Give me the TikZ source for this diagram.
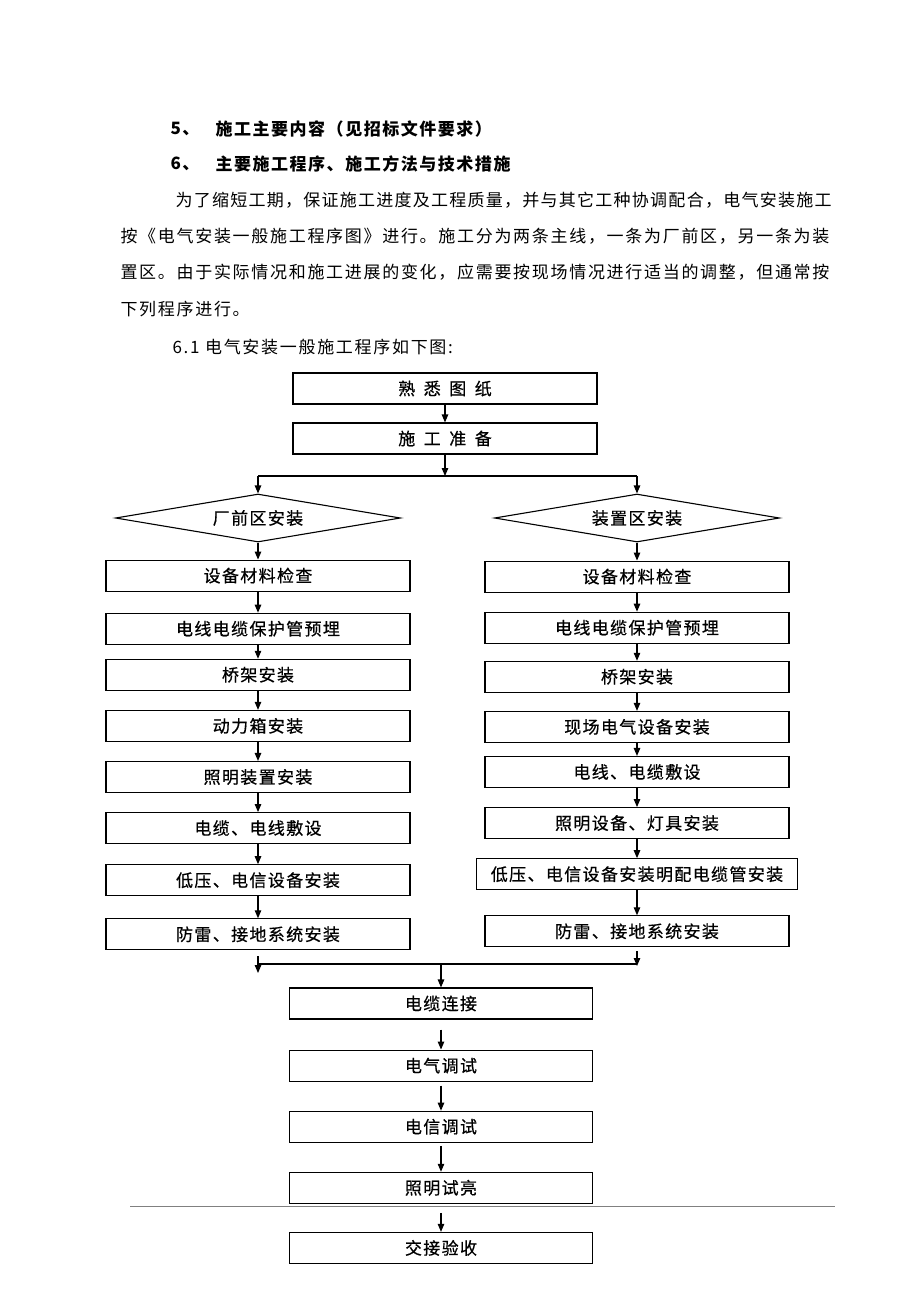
\documentclass[tikz,border=0pt]{standalone}
\usepackage{fontspec}
\newfontfamily\cjk{Noto Sans CJK SC}
\newfontfamily\boxfont[LetterSpace=8, FakeBold=0.6]{Noto Sans CJK SC}
\newfontfamily\headfont[LetterSpace=9]{Noto Sans CJK SC}
\newfontfamily\parafont[LetterSpace=10]{Noto Sans CJK SC}
\newfontfamily\paranarrow[LetterSpace=7.4]{Noto Sans CJK SC}
\usetikzlibrary{shapes,arrows.meta,positioning}

\begin{document}
\begin{tikzpicture}[x=1pt, y=-1pt, line width=1.1pt, >={Triangle[length=8pt,width=6.5pt]}]

    % Define block styles
    \tikzstyle{block} = [draw, rectangle, minimum width=304pt, minimum height=31pt, inner sep=2pt, font=\boxfont\fontsize{17}{20}\selectfont]
    \tikzstyle{zone} = [draw, diamond, aspect=6, minimum width=285pt, minimum height=48pt, inner sep=1pt, font=\boxfont\fontsize{17}{20}\selectfont]
    \tikzstyle{head} = [anchor=west, inner sep=0pt, font=\headfont\bfseries\fontsize{17}{20}\selectfont]
    \tikzstyle{para} = [anchor=west, inner sep=0pt, font=\parafont\fontsize{17}{20}\selectfont]

    \useasboundingbox (0,0) rectangle (920,1302);

    % Text above the chart
    \node[head] (n5) at (170,129) {5、};
    \node[head] (h5) at (215,129) {施工主要内容（见招标文件要求）};
    \node[head] (n6) at (170,164) {6、};
    \node[head] (h6) at (215,164) {主要施工程序、施工方法与技术措施};
    \node[para, font=\paranarrow\fontsize{17}{20}\selectfont] (p1) at (175,200) {为了缩短工期，保证施工进度及工程质量，并与其它工种协调配合，电气安装施工};
    \node[para] (p2) at (120,236) {按《电气安装一般施工程序图》进行。施工分为两条主线，一条为厂前区，另一条为装};
    \node[para] (p3) at (120,272) {置区。由于实际情况和施工进展的变化，应需要按现场情况进行适当的调整，但通常按};
    \node[para] (p4) at (120,309) {下列程序进行。};
    \node[para] (p61) at (172,347) {6.1 电气安装一般施工程序如下图:};

    % Start
    \node[block] (fam) at (445,388.5) {熟\hspace{0.5em}悉\hspace{0.5em}图\hspace{0.5em}纸};
    \node[block] (prep) at (445,438.5) {施\hspace{0.5em}工\hspace{0.5em}准\hspace{0.5em}备};
    \node[zone] (zoneL) at (258,518) {厂前区安装};
    \node[zone] (zoneR) at (637,518) {装置区安装};

    \coordinate (split) at (445,476);
    \coordinate (splitL) at (258,476);
    \coordinate (splitR) at (637,476);

    \draw[->] (fam) -- (prep);
    \draw[->] (prep) -- (split);
    \draw (splitL) -- (splitR);
    \draw[->] (splitL) -- (zoneL);
    \draw[->] (splitR) -- (zoneR);

    % Left line
    \node[block, below=17pt of zoneL] (l1) {设备材料检查};
    \node[block, below=21pt of l1] (l2) {电线电缆保护管预埋};
    \node[block, below=14pt of l2] (l3) {桥架安装};
    \node[block, below=19pt of l3] (l4) {动力箱安装};
    \node[block, below=19pt of l4] (l5) {照明装置安装};
    \node[block, below=19pt of l5] (l6) {电缆、电线敷设};
    \node[block, below=20pt of l6] (l7) {低压、电信设备安装};
    \node[block, below=22pt of l7] (l8) {防雷、接地系统安装};

    \draw[->] (zoneL) -- (l1);
    \draw[->] (l1) -- (l2);
    \draw[->] (l2) -- (l3);
    \draw[->] (l3) -- (l4);
    \draw[->] (l4) -- (l5);
    \draw[->] (l5) -- (l6);
    \draw[->] (l6) -- (l7);
    \draw[->] (l7) -- (l8);

    % Right line
    \node[block, below=18pt of zoneR] (r1) {设备材料检查};
    \node[block, below=19pt of r1] (r2) {电线电缆保护管预埋};
    \node[block, below=17pt of r2] (r3) {桥架安装};
    \node[block, below=18pt of r3] (r4) {现场电气设备安装};
    \node[block, below=13pt of r4] (r5) {电线、电缆敷设};
    \node[block, below=19pt of r5] (r6) {照明设备、灯具安装};
    \node[block, minimum width=321pt, below=19pt of r6] (r7) {低压、电信设备安装明配电缆管安装};
    \node[block, below=25pt of r7] (r8) {防雷、接地系统安装};

    \draw[->] (zoneR) -- (r1);
    \draw[->] (r1) -- (r2);
    \draw[->] (r2) -- (r3);
    \draw[->] (r3) -- (r4);
    \draw[->] (r4) -- (r5);
    \draw[->] (r5) -- (r6);
    \draw[->] (r6) -- (r7);
    \draw[->] (r7) -- (r8);

    % Merge
    \coordinate (mergeL) at (l8.south |- 0,964);
    \coordinate (mergeR) at (r8.south |- 0,964);
    \coordinate (mergeM) at (441,964);
    \coordinate (endL) at (l8.south |- 0,973);
    \coordinate (endR) at (r8.south |- 0,966);

    \draw (mergeL) -- (mergeR);
    \draw[->, shorten <=6pt] (l8) -- (endL);
    \draw[->, shorten <=4pt] (r8) -- (endR);

    % Common line
    \node[block, minimum width=303pt] (b1) at (441,1003.5) {电缆连接};
    \node[block, minimum width=303pt, below=30pt of b1] (b2) {电气调试};
    \node[block, minimum width=303pt, below=29pt of b2] (b3) {电信调试};
    \node[block, minimum width=303pt, below=29pt of b3] (b4) {照明试亮};
    \node[block, minimum width=303pt, below=28pt of b4] (b5) {交接验收};

    \draw[->] (mergeM) -- (b1);
    \draw[->, shorten <=10pt] (b1) -- (b2);
    \draw[->, shorten <=4pt] (b2) -- (b3);
    \draw[->, shorten <=3pt] (b3) -- (b4);
    \draw[->, shorten <=9pt] (b4) -- (b5);

    % Rule across the page
    \coordinate (ruleL) at (130,1206);
    \coordinate (ruleR) at (835,1206);
    \draw[gray, line width=1pt] (ruleL) -- (ruleR);

\end{tikzpicture}
\end{document}
